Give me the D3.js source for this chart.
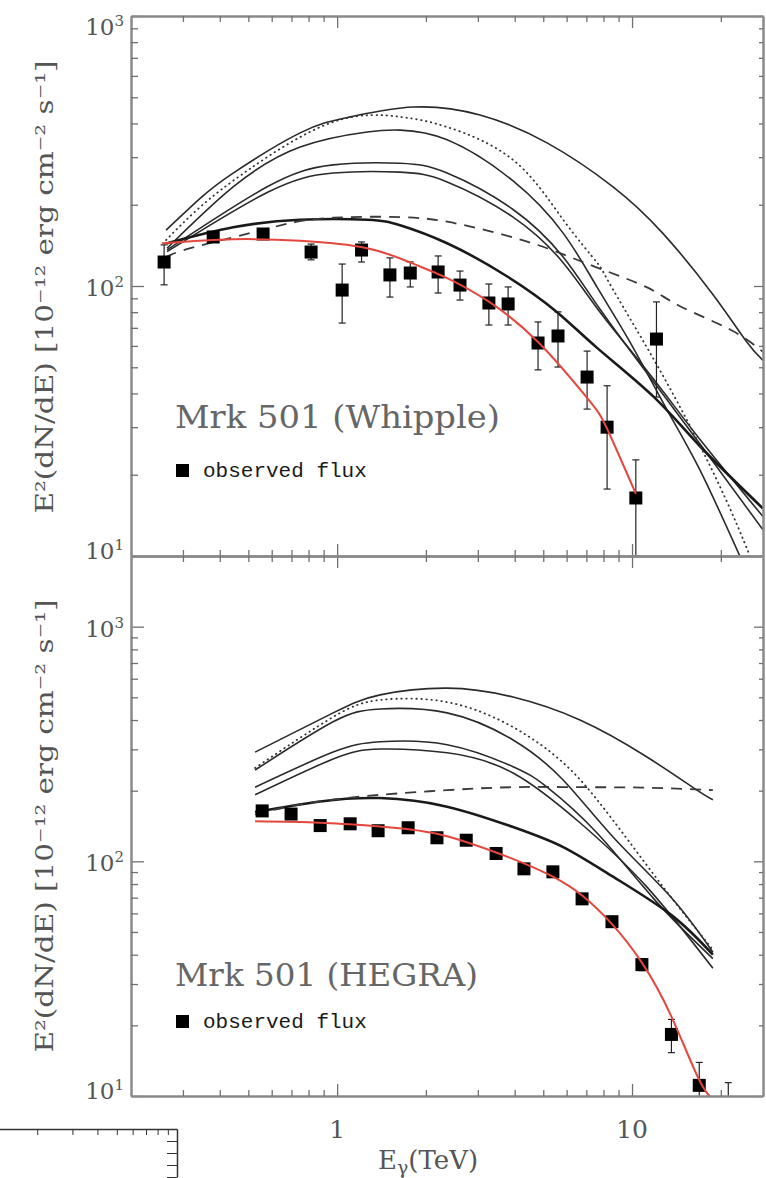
<!DOCTYPE html>
<html><head><meta charset="utf-8">
<script src="https://cdn.jsdelivr.net/npm/d3@7"></script>
<style>body{margin:0;background:#fff}svg{display:block}</style>
</head><body>
<svg id="c" width="766" height="1178"></svg>
<script>
// ---------------- data ----------------
const xDomain = [0.2, 27.8];            // E_gamma (TeV)
const whippleYDomain = [10, 1000];
const hegraYDomain = [10, 2000];
const xMajor = [1, 10];
const xMinor = [0.3,0.4,0.5,0.6,0.7,0.8,0.9,2,3,4,5,6,7,8,9,20];
const yMajor = [10, 100, 1000];
const yMinor = [20,30,40,50,60,70,80,90,200,300,400,500,600,700,800,900];
const xTickLabels = ["1", "10"];
const yTitle = "E²(dN/dE) [10⁻¹² erg cm⁻² s⁻¹]";

// Whipple observed flux
const whE  = [0.259,0.380,0.561,0.816,1.04,1.21,1.51,1.77,2.20,2.61,3.27,3.80,4.80,5.61,7.04,8.23,10.3,12.1];
const whF  = [122.7,151.9,155.8,133.6,96.6,135.9,109.9,111.7,112.7,100.8,86.5,85.8,61.5,65.3,46.0,30.0,16.4,63.6];
const whHi = [142,158.5,162.6,143,120.6,145.6,127.1,122.7,129.2,113.6,101.7,99.2,73.6,80.2,57.4,42.7,22.7,87.3];
const whLo = [101,145.5,149,125,72.9,122.7,91.0,99.2,94.2,88.7,71.7,71.7,48.9,50.1,35.0,17.7,10,38.8];

// HEGRA observed flux
const hgE  = [0.557,0.698,0.876,1.107,1.377,1.741,2.18,2.74,3.46,4.30,5.39,6.77,8.55,10.8,13.6,16.9,21.2];
const hgF  = [164,159,142,144.5,135,139,126,123,108,92.9,90.2,69.2,55.3,36.3,18.3,11.1,7];
const hgHi = [170,164,146,149,139,143,130,127,111,95.5,93,71,57,38.5,21.2,13.9,11.4];
const hgLo = [158,154,138,140,131,135,122,119,105,90,87.5,67.5,53.5,34.2,15.3,8.5,5];

// Whipple model curves [E, flux]
const whCurveA = [[0.263,161],[0.343,211],[0.444,262],[0.749,369],[1.107,423],[1.81,460],[3.05,430],[5.15,339],[8.62,233],[12.7,157],[18.8,93],[24.5,62],[27.8,53]];
const whCurveB = [[0.265,138],[0.444,233],[0.749,327],[1.264,372],[1.635,378],[2.36,348],[3.95,245],[5.84,157],[7.61,99],[9.84,62],[13.1,35],[17.0,20.8],[23.2,10]];
const whCurveC = [[0.265,136],[0.579,233],[0.969,281],[1.635,285],[2.36,262],[3.95,192],[5.84,128],[7.79,82],[11.5,46],[17.0,26],[27.8,12.5]];
const whCurveD = [[0.265,134],[0.579,222],[0.969,262],[1.635,264],[2.36,243],[3.95,180],[5.84,122],[7.79,80],[11.5,47],[17.0,27],[27.8,14]];
const whCurveThick = [[0.265,144],[0.444,165],[0.749,176],[1.264,176],[1.635,168],[2.36,144],[3.80,108],[5.57,80],[7.61,59],[11.8,39],[17.0,25.5],[27.8,15]];
const whDotted = [[0.263,148],[0.343,196],[0.507,272],[0.969,405],[1.635,423],[2.36,388],[3.95,293],[5.84,176],[7.61,122],[8.62,97],[13.1,44],[19.9,18],[25.1,10]];
const whDashed = [[0.263,128],[0.318,138],[0.507,157],[0.693,171],[0.969,179],[1.635,180],[2.36,173],[3.49,157],[5.15,138],[7.61,117],[11.2,99],[14.6,84],[21.5,69],[27.8,57]];
const whFit = [[0.255,144],[0.444,149],[0.749,147],[1.264,138],[1.81,121],[2.36,107],[3.27,87.5],[4.80,62],[7.04,38.5],[8.23,29.6],[10.3,17]];

// HEGRA model curves [E, flux]
const hgCurveA = [[0.527,292],[0.969,429],[1.399,512],[2.36,547],[3.95,501],[6.66,400],[11.2,279],[16.6,201],[18.8,183]];
const hgCurveB = [[0.527,245],[0.969,393],[1.399,446],[2.36,429],[3.95,329],[5.84,222],[8.62,127],[13.6,70],[18.8,41]];
const hgCurveC = [[0.527,207],[0.969,292],[1.399,323],[2.36,314],[3.95,253],[5.15,207],[7.61,132],[12.0,68],[18.8,38.5]];
const hgCurveD = [[0.527,192],[0.969,273],[1.399,301],[2.36,290],[3.95,238],[6.66,146],[11.2,78],[18.8,35]];
const hgCurveThick = [[0.527,162],[0.876,180],[1.399,186],[2.36,171],[3.95,140],[5.84,115],[8.62,86],[13.6,59],[18.8,40]];
const hgDotted = [[0.527,250],[0.969,412],[1.399,487],[2.36,477],[3.95,373],[5.84,263],[7.61,183],[9.84,120],[13.6,70],[18.8,42]];
const hgDashed = [[0.527,158],[0.698,172],[0.969,183],[1.399,192],[2.36,201],[3.95,207],[6.66,207],[11.2,206],[18.8,201]];
const hgFit = [[0.527,148],[0.876,146],[1.377,141],[2.18,131],[3.46,109],[4.30,98],[5.39,86],[6.77,71.5],[8.55,54],[10.8,37],[13.6,21.8],[16.9,11.7],[19.2,9.5]];

// ---------------- drawing ----------------
const svg = d3.select("#c");
const L = 131, R = 763;
const x = d3.scaleLog().domain(xDomain).range([L, R]);
const yW = d3.scaleLog().domain(whippleYDomain).range([556, 16]);
const yH = d3.scaleLog().domain(hegraYDomain).range([1096, 556]);

const serif = "'DejaVu Serif', 'Liberation Serif', serif";
const mono = "'Liberation Mono', 'DejaVu Sans Mono', monospace";

function styleAxis(sel) {
  sel.select(".domain").attr("stroke", "#8a8a8a").attr("stroke-width", 2);
  sel.selectAll(".tick line").attr("stroke", "#707070").attr("stroke-width", 1.3);
}

function drawAxes(y) {
  const [y0, y1] = y.range();
  const inY = v => v >= y.domain()[0] && v <= y.domain()[1];
  const g = svg.append("g");
  const add = (axis, tr) => g.append("g").attr("transform", tr).call(axis).call(styleAxis);
  add(d3.axisLeft(y).tickValues(yMajor.filter(inY)).tickSizeInner(-13).tickSizeOuter(0).tickFormat(""), `translate(${L},0)`);
  add(d3.axisLeft(y).tickValues(yMinor.filter(inY)).tickSizeInner(-7).tickSizeOuter(0).tickFormat(""), `translate(${L},0)`);
  add(d3.axisRight(y).tickValues(yMajor.filter(inY)).tickSizeInner(-9).tickSizeOuter(0).tickFormat(""), `translate(${R},0)`);
  add(d3.axisRight(y).tickValues(yMinor.filter(inY)).tickSizeInner(-4).tickSizeOuter(0).tickFormat(""), `translate(${R},0)`);
  add(d3.axisTop(x).tickValues(xMajor).tickSizeInner(-12).tickSizeOuter(0).tickFormat(""), `translate(0,${y1})`);
  add(d3.axisTop(x).tickValues(xMinor).tickSizeInner(-6).tickSizeOuter(0).tickFormat(""), `translate(0,${y1})`);
  add(d3.axisBottom(x).tickValues(xMajor).tickSizeInner(-12).tickSizeOuter(0).tickFormat(""), `translate(0,${y0})`);
  add(d3.axisBottom(x).tickValues(xMinor).tickSizeInner(-6).tickSizeOuter(0).tickFormat(""), `translate(0,${y0})`);
  yMajor.filter(inY).forEach(v => {
    const cy = Math.min(Math.max(y(v) + 2, y1 + 11), y0 - 5);
    const t = g.append("text").attr("x", 124).attr("y", cy + 8)
      .attr("text-anchor", "end").attr("font-family", serif).attr("font-size", 23).attr("fill", "#555");
    t.append("tspan").text("10");
    t.append("tspan").attr("dy", -9).attr("font-size", 15).text(String(Math.round(Math.log10(v))));
  });
}

function drawPanel(y, id, curves, dotted, dashed, thick, fit, E, F, Hi, Lo) {
  const [y0, y1] = y.range();
  svg.append("clipPath").attr("id", id).append("rect")
    .attr("x", L).attr("y", y1).attr("width", R - L).attr("height", y0 - y1);
  const g = svg.append("g").attr("clip-path", `url(#${id})`);
  const line = d3.line().x(d => x(d[0])).y(d => y(d[1])).curve(d3.curveNatural);
  curves.forEach(c => g.append("path").attr("d", line(c)).attr("fill", "none")
    .attr("stroke", "#2a2a2a").attr("stroke-width", 1.6));
  g.append("path").attr("d", line(thick)).attr("fill", "none").attr("stroke", "#1a1a1a").attr("stroke-width", 2.6);
  g.append("path").attr("d", line(dotted)).attr("fill", "none").attr("stroke", "#333")
    .attr("stroke-width", 1.8).attr("stroke-dasharray", "0.5,4.5").attr("stroke-linecap", "round");
  g.append("path").attr("d", line(dashed)).attr("fill", "none").attr("stroke", "#3a3a3a")
    .attr("stroke-width", 1.8).attr("stroke-dasharray", "11,8");
  const idx = d3.range(E.length);
  g.selectAll(null).data(idx).join("line")
    .attr("x1", i => x(E[i])).attr("x2", i => x(E[i]))
    .attr("y1", i => y(Hi[i])).attr("y2", i => y(Lo[i]))
    .attr("stroke", "#222").attr("stroke-width", 1.2);
  [Hi, Lo].forEach(arr => g.selectAll(null).data(idx).join("line")
    .attr("x1", i => x(E[i]) - 3.5).attr("x2", i => x(E[i]) + 3.5)
    .attr("y1", i => y(arr[i])).attr("y2", i => y(arr[i]))
    .attr("stroke", "#222").attr("stroke-width", 1.2));
  g.selectAll(null).data(idx).join("rect")
    .attr("x", i => x(E[i]) - 6.5).attr("y", i => y(F[i]) - 6.5)
    .attr("width", 13).attr("height", 13).attr("fill", "#000");
  g.append("path").attr("d", line(fit)).attr("fill", "none").attr("stroke", "#e5463d").attr("stroke-width", 2);
}

drawPanel(yW, "clipW", [whCurveA, whCurveB, whCurveC, whCurveD], whDotted, whDashed, whCurveThick, whFit, whE, whF, whHi, whLo);
drawPanel(yH, "clipH", [hgCurveA, hgCurveB, hgCurveC, hgCurveD], hgDotted, hgDashed, hgCurveThick, hgFit, hgE, hgF, hgHi, hgLo);
drawAxes(yW);
drawAxes(yH);

xMajor.forEach((v, i) => svg.append("text").attr("x", x(v)).attr("y", 1138)
  .attr("text-anchor", "middle").attr("font-family", serif).attr("font-size", 25).attr("fill", "#555").text(xTickLabels[i]));
const xt = svg.append("text").attr("x", 378).attr("y", 1169).attr("font-family", serif)
  .attr("font-size", 26).attr("fill", "#555");
xt.append("tspan").text("E");
xt.append("tspan").attr("dy", 5).attr("font-size", 19).text("γ");
xt.append("tspan").attr("dy", -5).text("(TeV)");

[[yW, 287], [yH, 826]].forEach(([y, cy]) => {
  svg.append("text").attr("transform", `translate(53,${cy}) rotate(-90)`)
    .attr("text-anchor", "middle").attr("font-family", serif).attr("font-size", 24)
    .attr("fill", "#555").attr("textLength", 453).attr("lengthAdjust", "spacingAndGlyphs").text(yTitle);
});

function panelLabel(name, base, len, legBase) {
  svg.append("text").attr("x", 175).attr("y", base).attr("font-family", serif).attr("font-size", 31)
    .attr("fill", "#666").attr("textLength", len).attr("lengthAdjust", "spacingAndGlyphs").text(name);
  svg.append("rect").attr("x", 176).attr("y", legBase - 13).attr("width", 13).attr("height", 13).attr("fill", "#000");
  svg.append("text").attr("x", 203).attr("y", legBase).attr("font-family", mono).attr("font-size", 21)
    .attr("fill", "#1a1a1a").text("observed flux");
}
panelLabel("Mrk 501 (Whipple)", 428, 325, 477);
panelLabel("Mrk 501 (HEGRA)", 986, 303, 1028);

// fragment of a neighbouring frame at bottom-left
const fx = d3.scaleLog().domain([1, 10]).range([-23, 177]);
const fy = d3.scaleLinear().domain([0, 4]).range([1129, 1177]);
svg.append("g").attr("transform", "translate(0,1129)")
  .call(d3.axisBottom(fx).tickValues([2,3,4,5,6,7,8,9]).tickSizeInner(6).tickSizeOuter(0).tickFormat(""))
  .call(s => { s.select(".domain").attr("stroke", "#333").attr("stroke-width", 1.5); s.selectAll(".tick line").attr("stroke", "#333"); });
svg.append("g").attr("transform", "translate(177,0)")
  .call(d3.axisRight(fy).tickValues([1,2,3,4]).tickSizeInner(-10).tickSizeOuter(0).tickFormat(""))
  .call(s => { s.select(".domain").attr("stroke", "#333").attr("stroke-width", 1.5); s.selectAll(".tick line").attr("stroke", "#333"); });
</script>
</body></html>
